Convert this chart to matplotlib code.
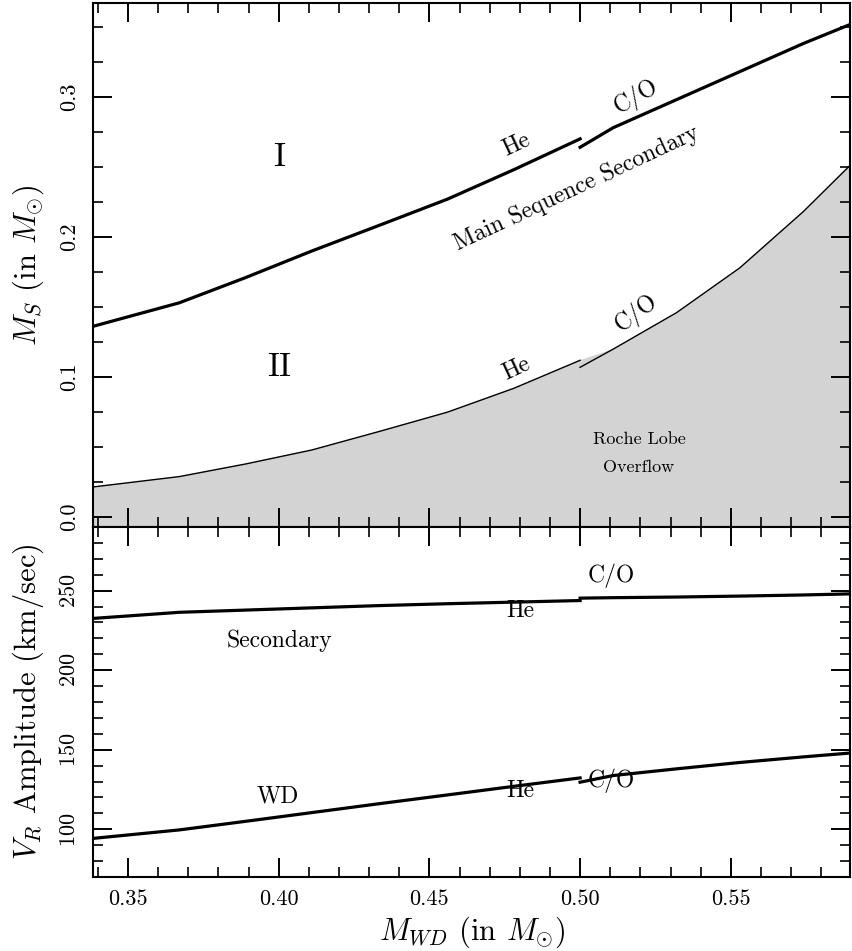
import matplotlib
matplotlib.use("Agg")
import matplotlib.pyplot as plt
from matplotlib.ticker import MultipleLocator, FormatStrFormatter

plt.rcParams['font.family'] = 'serif'
plt.rcParams['font.serif'] = ['cmr10']
plt.rcParams['mathtext.fontset'] = 'cm'
plt.rcParams['axes.formatter.use_mathtext'] = True

# White dwarf mass grid, split at the He / C-O core boundary
m_wd_he = [0.338, 0.367, 0.389, 0.411, 0.433, 0.456, 0.478, 0.500]
m_wd_co = [0.500, 0.511, 0.532, 0.553, 0.574, 0.590]

# Secondary mass limits (in solar masses)
ms_upper_he = [0.136, 0.153, 0.171, 0.190, 0.208, 0.227, 0.248, 0.270]
ms_upper_co = [0.264, 0.278, 0.298, 0.318, 0.338, 0.352]
ms_lower_he = [0.0215, 0.029, 0.038, 0.048, 0.061, 0.075, 0.092, 0.112]
ms_lower_co = [0.107, 0.120, 0.146, 0.178, 0.218, 0.252]

# Radial velocity amplitudes (km/sec)
vr_sec_he = [232.5, 236.4, 237.8, 239.2, 240.6, 241.8, 242.8, 243.8]
vr_sec_co = [245.3, 245.6, 246.0, 246.6, 247.3, 248.0]
vr_wd_he = [94.2, 99.6, 105.0, 110.5, 116.0, 121.6, 127.0, 132.3]
vr_wd_co = [129.6, 133.8, 138.0, 142.0, 145.5, 148.0]


def style_axis(ax):
    ax.tick_params(which='both', direction='in', top=True, right=True)
    ax.tick_params(which='major', length=14, width=1.4, labelsize=16)
    ax.tick_params(which='minor', length=7, width=1.2)
    ax.tick_params(axis='y', labelrotation=90, pad=10)
    ax.tick_params(axis='x', pad=9)
    for label in ax.get_yticklabels():
        label.set_va('center')
    for sp in ax.spines.values():
        sp.set_linewidth(1.5)


fig = plt.figure(figsize=(8.52, 9.51), dpi=100)
ax1 = fig.add_axes([0.1092, 0.4458, 0.8890, 0.5511])
ax2 = fig.add_axes([0.1092, 0.0778, 0.8890, 0.3680], sharex=ax1)

# Top panel: allowed secondary masses
ax1.plot(m_wd_he, ms_upper_he, color='black', lw=2.3)
ax1.plot(m_wd_co, ms_upper_co, color='black', lw=2.3)
ax1.plot(m_wd_he, ms_lower_he, color='black', lw=1.0)
ax1.plot(m_wd_co, ms_lower_co, color='black', lw=1.0)
ax1.fill_between(m_wd_he + m_wd_co[1:], ms_lower_he + ms_lower_co[1:], -0.05,
                 color='lightgray', zorder=0)
ax1.fill_between(m_wd_co[:2], ms_lower_co[:2], -0.05, color='lightgray', zorder=0)

ax1.text(0.40, 0.257, 'I', fontsize=24, ha='center', va='center')
ax1.text(0.40, 0.107, 'II', fontsize=24, ha='center', va='center')
ax1.text(0.479, 0.266, 'He', fontsize=17, ha='center', va='center', rotation=25)
ax1.text(0.5186, 0.300, 'C/O', fontsize=17, ha='center', va='center', rotation=30)
ax1.text(0.4987, 0.235, 'Main Sequence Secondary', fontsize=17,
         ha='center', va='center', rotation=25)
ax1.text(0.4788, 0.106, 'He', fontsize=17, ha='center', va='center', rotation=25)
ax1.text(0.5186, 0.146, 'C/O', fontsize=17, ha='center', va='center', rotation=37)
ax1.text(0.5195, 0.0457, 'Roche Lobe\nOverflow', fontsize=13,
         ha='center', va='center', linespacing=2.0)

ax1.set_xlim(0.3384, 0.5897)
ax1.set_ylim(-0.007, 0.367)
ax1.xaxis.set_major_locator(MultipleLocator(0.05))
ax1.xaxis.set_minor_locator(MultipleLocator(0.01))
ax1.yaxis.set_major_locator(MultipleLocator(0.1))
ax1.yaxis.set_minor_locator(MultipleLocator(0.025))
ax1.yaxis.set_major_formatter(FormatStrFormatter('%.1f'))
ax1.tick_params(labelbottom=False)
ax1.set_ylabel(r'$M_S$ (in $M_{\odot}$)', fontsize=22)
style_axis(ax1)

# Bottom panel: radial velocity amplitudes
ax2.plot(m_wd_he, vr_sec_he, color='black', lw=2.3)
ax2.plot(m_wd_co, vr_sec_co, color='black', lw=2.3)
ax2.plot(m_wd_he, vr_wd_he, color='black', lw=2.3)
ax2.plot(m_wd_co, vr_wd_co, color='black', lw=2.3)

ax2.text(0.480, 237.5, 'He', fontsize=17, ha='center', va='center')
ax2.text(0.5103, 259.4, 'C/O', fontsize=17, ha='center', va='center')
ax2.text(0.4003, 218.7, 'Secondary', fontsize=17, ha='center', va='center')
ax2.text(0.3997, 120.6, 'WD', fontsize=17, ha='center', va='center')
ax2.text(0.480, 124.4, 'He', fontsize=17, ha='center', va='center')
ax2.text(0.5103, 130.6, 'C/O', fontsize=17, ha='center', va='center')

ax2.set_ylim(70, 290)
ax2.yaxis.set_major_locator(MultipleLocator(50))
ax2.yaxis.set_minor_locator(MultipleLocator(10))
ax2.xaxis.set_major_formatter(FormatStrFormatter('%.2f'))
ax2.set_ylabel(r'$V_R$ Amplitude (km/sec)', fontsize=22)
ax2.set_xlabel(r'$M_{WD}$ (in $M_{\odot}$)', fontsize=22, labelpad=4)
style_axis(ax2)

ax1.yaxis.set_label_coords(-0.062, 0.5)
ax2.yaxis.set_label_coords(-0.062, 0.5)

fig.savefig('out.png', dpi=100)
